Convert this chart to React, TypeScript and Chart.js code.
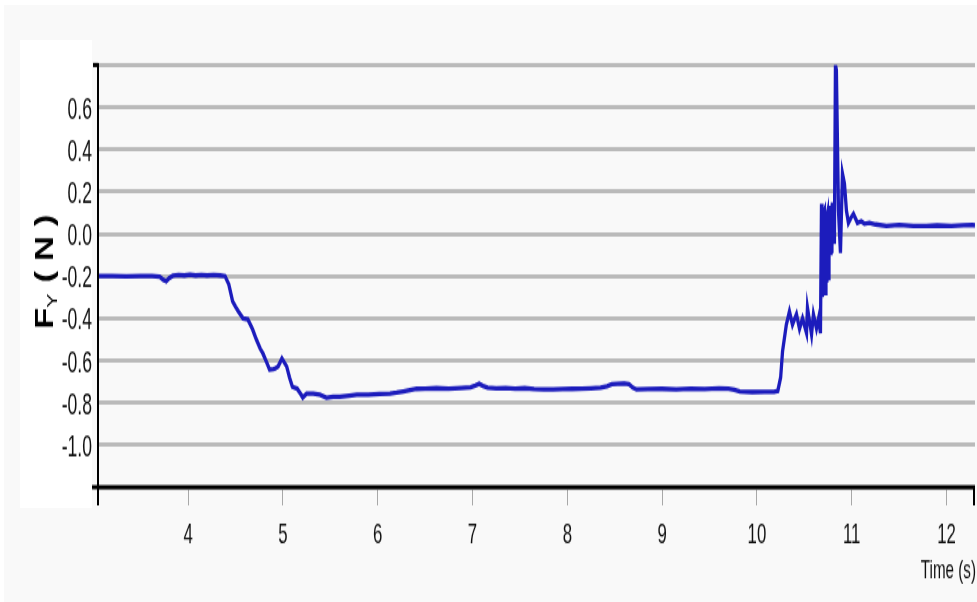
import React, { useEffect, useRef } from 'react';
import { Chart, registerables } from 'chart.js';

Chart.register(...registerables);

// Time (s)
const times: number[] = [
  3.05, 3.2, 3.35, 3.5, 3.62, 3.7, 3.74, 3.77, 3.8, 3.84, 3.9, 3.96, 4.02, 4.08, 4.14, 4.2, 4.27, 4.34, 4.39,
  4.43, 4.47, 4.5, 4.53, 4.58, 4.63, 4.68, 4.72, 4.76, 4.79, 4.83, 4.86, 4.9, 4.92, 4.95, 4.99, 5.04, 5.07,
  5.1, 5.15, 5.19, 5.21, 5.25, 5.32, 5.39, 5.46, 5.53, 5.6, 5.7, 5.78, 5.9, 6.02, 6.13, 6.2, 6.27, 6.34,
  6.41, 6.5, 6.62, 6.75, 6.88, 6.98, 7.03, 7.07, 7.11, 7.16, 7.25, 7.35, 7.45, 7.55, 7.65, 7.75, 7.85,
  7.95, 8.05, 8.15, 8.25, 8.35, 8.42, 8.47, 8.53, 8.6, 8.65, 8.69, 8.73, 8.85, 9.0, 9.15, 9.3, 9.45, 9.6,
  9.7, 9.76, 9.82, 9.95, 10.08, 10.18, 10.22, 10.25, 10.27, 10.31, 10.343, 10.375, 10.417, 10.449, 10.481,
  10.523, 10.533, 10.576, 10.596, 10.628, 10.65, 10.67, 10.681, 10.686, 10.691, 10.697, 10.702, 10.707,
  10.712, 10.717, 10.722, 10.728, 10.733, 10.738, 10.744, 10.749, 10.754, 10.76, 10.765, 10.77, 10.775,
  10.78, 10.786, 10.791, 10.796, 10.801, 10.806, 10.812, 10.817, 10.828, 10.838, 10.86, 10.881, 10.902,
  10.923, 10.944, 10.965, 10.99, 11.018, 11.06, 11.1, 11.134, 11.186, 11.25, 11.366, 11.5, 11.65, 11.787,
  11.9, 12.05, 12.18, 12.272, 12.3,
];

// F_Y (N)
const forceY: number[] = [
  -0.2, -0.199, -0.201, -0.2, -0.199, -0.203, -0.218, -0.224, -0.21, -0.198, -0.194, -0.197, -0.193, -0.197,
  -0.194, -0.197, -0.195, -0.197, -0.2,
  -0.24, -0.32, -0.345, -0.367, -0.4, -0.405, -0.452, -0.5, -0.543, -0.567, -0.61, -0.643, -0.64, -0.638,
  -0.628, -0.59, -0.628, -0.68, -0.724, -0.733, -0.76, -0.775, -0.757, -0.757, -0.762, -0.776, -0.772,
  -0.771, -0.766, -0.762, -0.761, -0.758, -0.757, -0.752, -0.746, -0.74, -0.734, -0.733, -0.731, -0.733,
  -0.73, -0.727, -0.718, -0.71, -0.72, -0.728, -0.732, -0.73, -0.733, -0.731, -0.735, -0.737, -0.736,
  -0.735, -0.734, -0.733, -0.731, -0.728, -0.722, -0.712, -0.71, -0.708, -0.712, -0.728, -0.737, -0.735,
  -0.734, -0.736, -0.733, -0.735, -0.732, -0.733, -0.738, -0.746, -0.749, -0.748, -0.748, -0.744, -0.68,
  -0.557, -0.43, -0.367, -0.43, -0.38, -0.45, -0.4, -0.47, -0.35, -0.476, -0.38, -0.448, -0.4, -0.47,
  0.143, -0.1, -0.3, 0.06, -0.12, 0.1, 0.11, -0.25, -0.28, 0.02, -0.22, 0.08, 0.095, -0.15, -0.21, 0.1,
  0.03, -0.05, 0.133, -0.1, -0.08, 0.12, 0.148, 0.0, -0.02, 0.06, -0.048, 0.8, 0.776, 0.11, -0.09, 0.286,
  0.238, 0.11, 0.052, 0.075, 0.095, 0.052, 0.06, 0.048, 0.052, 0.045, 0.038, 0.042, 0.037, 0.038, 0.04,
  0.038, 0.041, 0.043, 0.04,
];

const xTickLabels: number[] = [4, 5, 6, 7, 8, 9, 10, 11, 12];
const yTickLabels: string[] = ['-1.0', '-0.8', '-0.6', '-0.4', '-0.2', '0.0', '0.2', '0.4', '0.6'];

const xTitle = 'Time (s)';
const yTitleMain = 'F';
const yTitleSub = 'Y';
const yTitleRest = ' ( N )';

const SANS = "'Liberation Sans', Arial, sans-serif";
const NARROW_SCALE = 0.8;

const fmt = (v: number) => (Math.abs(v) < 1e-9 ? '0.0' : v.toFixed(1));

function narrowText(ctx: any, text: string, x: number, y: number, align: string, size: number) {
  ctx.save();
  ctx.translate(x, y);
  ctx.scale(NARROW_SCALE, 1);
  ctx.font = `${size}px ${SANS}`;
  ctx.textAlign = align;
  ctx.textBaseline = 'alphabetic';
  ctx.fillText(text, 0, 0);
  ctx.restore();
}

const decorPlugin = {
  id: 'decor',
  afterDraw(chart: any) {
    const { ctx, chartArea: ca } = chart;
    const xs = chart.scales.x;
    const ys = chart.scales.y;
    ctx.save();
    ctx.strokeStyle = '#000';
    // x axis line
    ctx.lineWidth = 3;
    ctx.beginPath();
    ctx.moveTo(92, ca.bottom);
    ctx.lineTo(ca.right, ca.bottom);
    ctx.stroke();
    // top stub
    ctx.beginPath();
    ctx.moveTo(93, ca.top);
    ctx.lineTo(ca.left, ca.top);
    ctx.stroke();
    // y axis line
    ctx.lineWidth = 2;
    ctx.beginPath();
    ctx.moveTo(ca.left, ca.top - 1.5);
    ctx.lineTo(ca.left, ca.bottom + 13);
    ctx.stroke();
    // right end tick
    ctx.beginPath();
    ctx.moveTo(ca.right - 1, ca.bottom);
    ctx.lineTo(ca.right - 1, ca.bottom + 13);
    ctx.stroke();

    // tick labels (condensed), positioned by the chart's scales
    ctx.fillStyle = '#111';
    xs.ticks.forEach((t: any) => {
      if (!xTickLabels.includes(t.value)) return;
      narrowText(ctx, String(t.value), xs.getPixelForValue(t.value), 388, 'center', 21);
    });
    ys.ticks.forEach((t: any) => {
      const s = fmt(t.value);
      if (!yTickLabels.includes(s)) return;
      narrowText(ctx, s, 92, ys.getPixelForValue(t.value) + 8, 'right', 22);
    });
    narrowText(ctx, xTitle, ca.right + 1, 413, 'right', 19);

    // y title
    ctx.translate(44, 194);
    ctx.rotate(-Math.PI / 2);
    ctx.fillStyle = '#000';
    ctx.textBaseline = 'alphabetic';
    ctx.textAlign = 'left';
    const mainFont = `bold 25px ${SANS}`;
    const subFont = `15px ${SANS}`;
    ctx.font = mainFont;
    const wF = ctx.measureText(yTitleMain).width;
    const wR = ctx.measureText(yTitleRest).width;
    ctx.font = subFont;
    const wS = ctx.measureText(yTitleSub).width;
    const total = wF + wS + 1 + wR;
    let x = -total / 2;
    const base = 9;
    ctx.font = mainFont;
    ctx.fillText(yTitleMain, x, base);
    x += wF;
    ctx.font = subFont;
    ctx.fillText(yTitleSub, x, base + 4);
    x += wS + 1;
    ctx.font = mainFont;
    ctx.fillText(yTitleRest, x, base);
    ctx.restore();
  },
};

export default function App() {
  const ref = useRef<HTMLCanvasElement>(null);

  useEffect(() => {
    if (!ref.current) return;
    const points = times.map((t, i) => ({ x: t, y: forceY[i] }));
    const chart = new Chart(ref.current, {
      type: 'line',
      data: {
        datasets: [
          {
            data: points,
            borderColor: '#1c1cbc',
            borderWidth: 3.3,
            pointRadius: 0,
            tension: 0,
            fill: false,
          },
        ],
      },
      options: {
        animation: false,
        responsive: false,
        devicePixelRatio: 1,
        layout: { padding: { top: 46.4, right: 2, left: 0, bottom: 0 } },
        plugins: {
          legend: { display: false },
          tooltip: { enabled: false },
        },
        scales: {
          x: {
            type: 'linear',
            min: 3.05,
            max: 12.3,
            afterFit: (s: any) => {
              s.height = 82;
            },
            border: { display: false },
            grid: {
              drawOnChartArea: false,
              drawTicks: true,
              tickLength: 13,
              tickColor: '#a8a8a8',
              lineWidth: 1,
            },
            ticks: {
              display: false,
              stepSize: 1,
              includeBounds: false,
              autoSkip: false,
            },
          },
          y: {
            type: 'linear',
            min: -1.2,
            max: 0.8,
            afterFit: (s: any) => {
              s.width = 98;
            },
            border: { display: false },
            grid: { color: '#bababa', lineWidth: 3, drawTicks: false },
            ticks: {
              display: false,
              stepSize: 0.2,
            },
          },
        },
      },
      plugins: [decorPlugin],
    } as any);
    return () => chart.destroy();
  }, []);

  return (
    <div
      style={{
        position: 'fixed',
        left: 0,
        top: 0,
        width: 977,
        height: 602,
        background: '#fff',
        overflow: 'hidden',
      }}
    >
      <div style={{ position: 'absolute', left: 4, top: 5, right: 0, bottom: 0, background: '#f9f9f9' }} />
      <div style={{ position: 'absolute', left: 20, top: 40, width: 72, height: 468, background: '#fff' }} />
      <div
        style={{
          position: 'absolute',
          left: 0,
          top: 0,
          width: 977,
          height: 430,
          transform: 'scaleY(1.4)',
          transformOrigin: '0 0',
        }}
      >
        <canvas ref={ref} width={977} height={430} style={{ display: 'block', width: '977px', height: '430px' }} />
      </div>
    </div>
  );
}
